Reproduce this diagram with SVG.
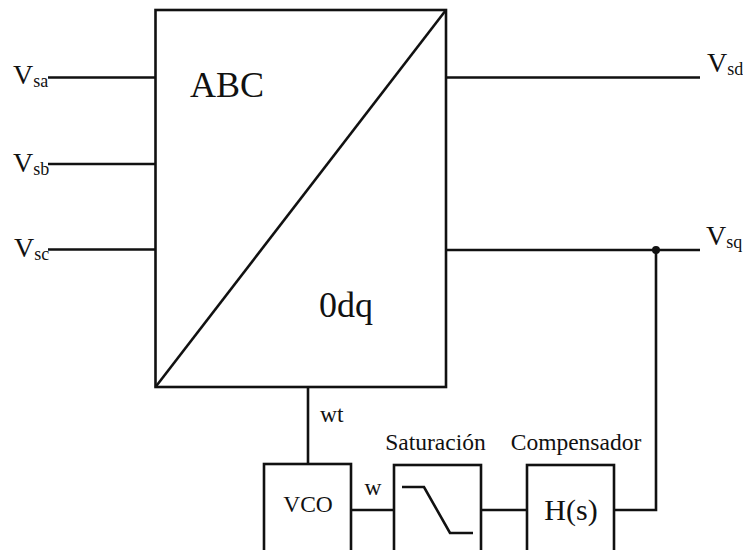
<svg xmlns="http://www.w3.org/2000/svg" width="743" height="550" viewBox="0 0 743 550">
<style>
.b{fill:#fff;stroke:#111;stroke-width:2.6}
.l{fill:none;stroke:#111;stroke-width:2.6}
text{font-family:"Liberation Serif","Times New Roman",serif;fill:#111}
.v{font-size:28px}
.s{font-size:18px}
.m{font-size:23.5px}
</style>
<rect width="743" height="550" fill="#fff"/>
<g id="connectors">
<path class="l" d="M48 77.5H155.5M48 164H155.5M48 249.5H155.5"/>
<path class="l" d="M446 77.5H700M446 250H700"/>
<path class="l" d="M656 250V510H614"/>
<circle cx="656" cy="250" r="4" fill="#111"/>
<path class="l" d="M308 387V464"/>
<path class="l" d="M351 510H394"/>
<path class="l" d="M481 510H527"/>
</g>
<g id="labels-in">
<text class="v" x="13" y="84">V<tspan class="s" dy="3">sa</tspan></text>
<text class="v" x="13" y="172">V<tspan class="s" dy="3">sb</tspan></text>
<text class="v" x="14" y="257">V<tspan class="s" dy="3">sc</tspan></text>
</g>
<g id="labels-out">
<text class="v" x="707" y="72">V<tspan class="s" dy="3">sd</tspan></text>
<text class="v" x="706" y="245">V<tspan class="s" dy="3">sq</tspan></text>
</g>
<g id="transform">
<rect class="b" x="155.5" y="10" width="290.5" height="377"/>
<path class="l" d="M155.5 387L446 10"/>
<text x="190" y="97" font-size="36">ABC</text>
<text x="319" y="317" font-size="36">0dq</text>
</g>
<text class="m" x="320" y="422">wt</text>
<g id="vco">
<rect class="b" x="264" y="464" width="87" height="100"/>
<text class="m" x="308" y="512" text-anchor="middle">VCO</text>
</g>
<text class="m" x="373" y="495" text-anchor="middle">w</text>
<g id="saturacion">
<text class="m" x="435.5" y="450" text-anchor="middle">Saturación</text>
<rect class="b" x="394" y="465" width="87" height="100"/>
<path class="l" d="M402 487H424L450 533H473"/>
</g>
<g id="compensador">
<text class="m" x="576" y="450" text-anchor="middle">Compensador</text>
<rect class="b" x="527" y="465" width="87" height="100"/>
<text x="571" y="520" font-size="30" text-anchor="middle">H(s)</text>
</g>
</svg>
